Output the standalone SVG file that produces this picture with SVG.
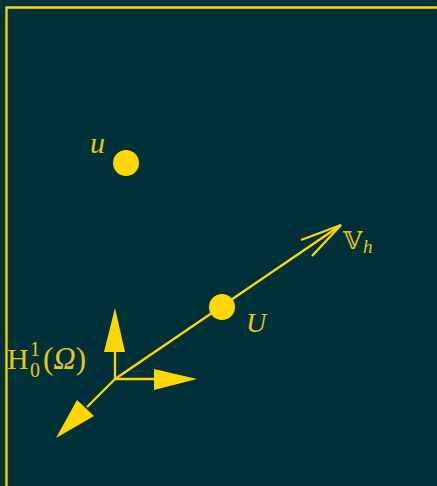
<svg xmlns="http://www.w3.org/2000/svg" width="437" height="486" viewBox="0 0 437 486">
<style>
.ln{stroke:#FFD700;stroke-width:2.3;fill:none}
.hd{fill:#FFD700;stroke:none}
.t{fill:#E8C619;font-family:"Liberation Serif","DejaVu Serif",serif}
</style>
<rect width="437" height="486" fill="#003038"/>
<path class="ln" d="M6.5,486V7.5H437"/>
<g id="connectors">
<line class="ln" x1="115" y1="379" x2="115" y2="350"/>
<polygon class="hd" points="115,308 125,352 104,352"/>
<line class="ln" x1="115" y1="379" x2="157" y2="379"/>
<polygon class="hd" points="197,379 154,369 154,390"/>
<line class="ln" x1="115" y1="379" x2="87" y2="407"/>
<polygon class="hd" points="56,438 77,400 94,416"/>
<line class="ln" x1="115" y1="379" x2="341" y2="225"/>
<polyline class="ln" points="301,240 341,225 312,256"/>
</g>
<g id="u"><circle cx="126" cy="163" r="13" fill="#FFD700"/><text class="t" x="90" y="153" font-size="30" font-style="italic">u</text></g>
<g id="U"><circle cx="222" cy="307" r="13" fill="#FFD700"/><text class="t" x="246" y="332" font-size="28" font-style="italic">U</text></g>
<g id="Vh"><text class="t" x="343" y="249" font-size="25" font-family="DejaVu Sans">𝕍</text><text class="t" x="363" y="253" font-size="19" font-style="italic">h</text></g>
<g id="H"><text class="t" x="7" y="369" font-size="30">H</text><text class="t" x="30" y="356" font-size="20">1</text><text class="t" x="30" y="377" font-size="20">0</text><text class="t" x="43" y="369" font-size="31">(<tspan font-style="italic">Ω</tspan>)</text></g>
</svg>
